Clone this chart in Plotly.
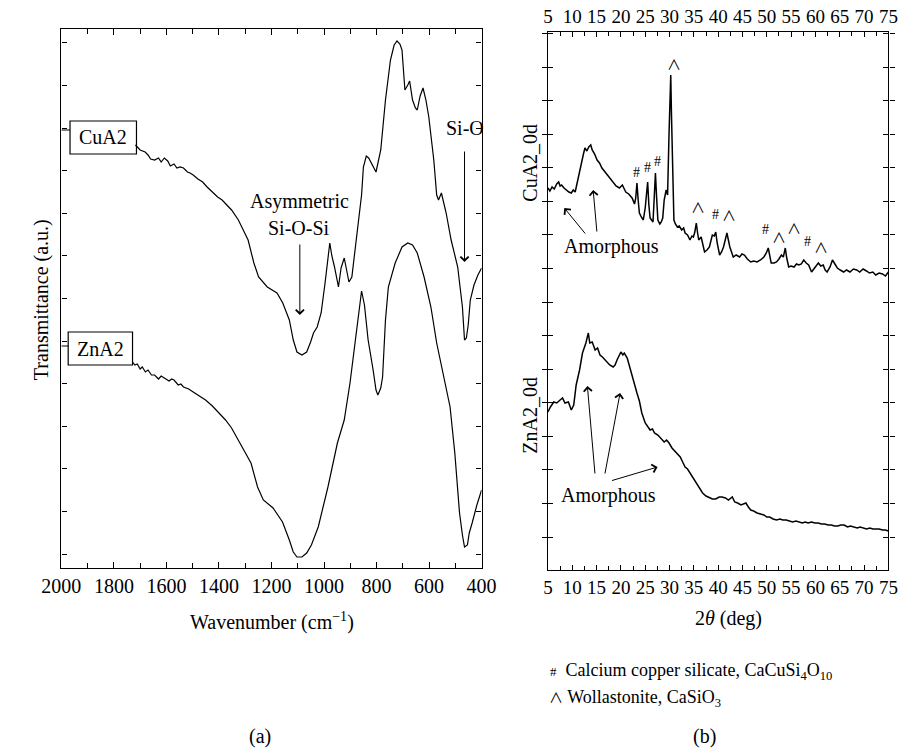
import plotly.graph_objects as go

# ---------------- Panel (a): FTIR ----------------
wn_cu = [1718, 1700, 1681, 1670, 1660, 1645, 1630, 1620, 1608, 1595, 1585, 1571, 1560, 1548, 1535, 1520, 1510,
         1498, 1480, 1462, 1445, 1425, 1405, 1388, 1370, 1352, 1326, 1308, 1289, 1267, 1249, 1216, 1179, 1157,
         1132, 1117, 1103, 1084, 1066, 1051, 1040, 1026, 1011, 996, 984, 978, 970, 960, 945, 935, 923, 914, 905,
         894, 875, 857, 850, 839, 830, 821, 802, 784, 766, 747, 733, 722, 711, 703, 692, 681, 674, 663, 652,
         645, 634, 623, 612, 601, 582, 571, 564, 553, 535, 516, 491, 473, 465, 458, 451, 443, 429, 414, 400]
t_cu = [423, 418, 416, 413, 409, 408, 410, 406, 410, 407, 402, 404, 400, 401, 400, 396, 395,
        393, 389, 386, 381, 376, 371, 368, 363, 358, 348, 338, 328, 305, 291, 281, 275, 265,
        248, 228, 216, 213, 216, 226, 235, 241, 255, 285, 315, 325, 312, 301, 281, 300, 310, 296, 286,
        291, 335, 373, 401, 412, 410, 405, 396, 418, 468, 508, 523, 527, 524, 518, 478, 483, 487, 468, 460,
        458, 472, 480, 468, 451, 408, 373, 368, 375, 355, 328, 301, 261, 228, 230, 243, 268, 283, 293, 300]

wn_zn = [1729, 1720, 1711, 1700, 1692, 1680, 1670, 1657, 1645, 1630, 1620, 1608, 1590, 1580, 1571, 1555, 1545,
         1535, 1515, 1498, 1475, 1451, 1425, 1399, 1375, 1352, 1330, 1304, 1278, 1253, 1231, 1194, 1158, 1132,
         1117, 1103, 1084, 1066, 1048, 1022, 1004, 985, 949, 923, 901, 883, 868, 857, 846, 832, 813, 802, 795,
         784, 777, 766, 755, 729, 703, 681, 663, 645, 619, 593, 571, 546, 520, 502, 484, 473, 465, 454, 447,
         436, 418, 400]
t_zn = [206, 203, 204, 199, 201, 196, 198, 193, 193, 189, 192, 190, 187, 189, 188, 183, 184,
        181, 179, 176, 172, 168, 162, 155, 148, 140, 130, 118, 105, 81, 68, 60, 46, 28,
        16, 11, 11, 15, 23, 41, 61, 81, 125, 148, 185, 225, 258, 277, 263, 228, 198, 178, 173,
        180, 191, 248, 281, 305, 321, 325, 323, 315, 291, 261, 225, 195, 161, 115, 55, 33, 21, 23, 35,
        45, 63, 78]

# ---------------- Panel (b): XRD ----------------
tth_cu = [5.0, 5.4, 5.85, 6.3, 6.8, 7.2, 7.5, 7.8, 8.3, 8.8, 9.3, 9.8, 10.2, 10.6, 11.0, 11.5, 11.9, 12.3,
          12.6, 13.0, 13.4, 13.8, 14.1, 14.6, 15.1, 15.6, 16.1, 16.6, 17.1, 17.7, 18.4, 19.0, 19.7, 20.3,
          21.0, 21.6, 22.3, 22.8, 23.05, 23.3, 23.55, 23.8, 24.2, 24.6, 25.0, 25.5, 25.75, 26.0, 26.3,
          26.6, 26.85, 27.1, 27.35, 27.6, 28.0, 28.3, 28.6, 28.9, 29.3, 29.6, 29.9, 30.1, 30.25, 30.4,
          30.6, 30.9, 31.2, 31.6, 32.0, 32.5, 32.9, 33.2, 33.7, 34.2, 34.6, 34.9, 35.2, 35.5, 35.8, 36.0,
          36.5, 36.9, 37.2, 37.7, 38.2, 38.8, 39.2, 39.5, 39.8, 40.3, 40.7, 41.1, 41.5, 41.8, 42.1, 42.4,
          43.1, 43.7, 44.4, 44.9, 45.4, 46.0, 46.7, 47.3, 48.0, 48.7, 49.4, 49.9, 50.3, 50.6, 50.9, 51.5,
          52.0, 52.5, 53.0, 53.4, 53.8, 54.1, 54.5, 55.0, 55.6, 56.1, 56.6, 57.1, 57.6, 58.1, 58.6, 59.2,
          59.9, 60.6, 61.1, 61.6, 62.0, 62.4, 63.0, 63.5, 64.0, 64.5, 65.1, 65.8, 66.4, 67.1, 67.8, 68.5,
          69.1, 69.8, 70.5, 71.1, 71.8, 72.4, 73.1, 73.8, 74.4, 75.0]
int_cu = [382, 379, 383, 381, 386, 388, 384, 385, 382, 380, 378, 377, 380, 378, 387, 400, 410, 416,
          422, 419, 423, 425, 420, 416, 410, 407, 402, 399, 395, 392, 387, 384, 382, 385,
          378, 376, 372, 366, 372, 387, 370, 357, 353, 350, 362, 388, 365, 352, 350,
          348, 372, 397, 372, 350, 346, 348, 352, 370, 380, 375, 437, 470, 495, 455,
          420, 350, 346, 343, 344, 340, 342, 337, 335, 330, 334, 333, 338, 347, 336, 330,
          333, 326, 318, 320, 323, 335, 334, 338, 327, 315, 318, 323, 330, 337, 330, 323,
          313, 315, 313, 316, 315, 311, 308, 309, 308, 310, 313, 317, 322, 313, 307, 307,
          308, 311, 315, 313, 322, 312, 303, 304, 303, 306, 305, 306, 310, 307, 305, 298,
          303, 307, 304, 305, 300, 298, 303, 310, 306, 302, 300, 298, 300, 298, 301, 300,
          298, 301, 299, 297, 298, 295, 297, 296, 294, 298]

tth_zn = [5.0, 5.5, 6.2, 6.8, 7.5, 8.0, 8.5, 9.2, 9.8, 10.3, 10.8, 11.5, 12.1, 12.8, 13.3, 13.6, 14.1,
          14.7, 15.2, 15.7, 16.2, 16.7, 17.2, 17.7, 18.4, 18.8, 19.2, 20.0, 20.4, 20.7, 21.3, 21.8, 22.3,
          22.8, 23.3, 23.8, 24.3, 25.0, 25.5, 26.0, 26.5, 26.9, 27.6, 28.2, 28.9, 29.4, 29.9, 30.5,
          31.2, 31.7, 32.2, 32.7, 33.2, 33.7, 34.2, 34.8, 35.5, 36.1, 36.8, 37.5, 38.2, 38.8, 39.5,
          40.2, 40.8, 41.5, 42.1, 42.9, 43.4, 44.0, 44.7, 45.2, 45.7, 46.2, 46.7, 47.3, 48.0, 48.7,
          49.4, 50.0, 50.6, 51.3, 52.0, 52.7, 53.3, 54.0, 54.6, 55.3, 56.0, 56.6, 57.3, 57.9, 58.5,
          59.2, 59.9, 60.6, 61.2, 61.9, 62.6, 63.3, 63.9, 64.6, 65.2, 65.9, 66.6, 67.2, 67.9, 68.6,
          69.2, 69.9, 70.5, 71.2, 71.8, 72.5, 73.1, 73.8, 74.4, 75.0]
int_zn = [158, 163, 168, 167, 170, 172, 167, 168, 160, 165, 185, 200, 217, 227, 237, 227, 228,
          220, 222, 215, 213, 210, 208, 205, 203, 205, 210, 218, 215, 217, 212, 203, 193,
          186, 177, 169, 157, 147, 143, 140, 141, 137, 135, 132, 128, 130, 127, 122,
          118, 116, 113, 108, 103, 101, 97, 93, 88, 82, 77, 74, 72, 71, 71,
          73, 73, 72, 70, 73, 68, 67, 65, 66, 67, 63, 60, 59, 57, 56,
          55, 53, 53, 51, 50, 51, 50, 50, 49, 48, 49, 48, 47, 48, 47,
          48, 47, 47, 46, 46, 45, 45, 44, 44, 45, 45, 43, 44, 43, 42,
          43, 42, 41, 42, 41, 41, 41, 40, 40, 39]

# phase markers (2θ, height) on the CuA2_0d pattern
hash_marks = [(23.3, 397), (25.4, 402), (27.6, 408), (39.5, 355), (49.7, 340), (58.3, 328)]
wedge_marks = [(30.9, 506), (35.8, 363), (42.2, 355), (52.6, 333), (55.6, 342), (61.2, 323)]

FONT = "'Liberation Serif', 'Times New Roman', serif"
WEDGE_FONT = "'Noto Sans CJK SC', 'DejaVu Sans', sans-serif"
BLACK = "#000000"
W, H = 913, 750
FS = 20


def px(x):
    return x / W


def py(y):
    return 1 - y / H


fig = go.Figure()
fig.add_trace(go.Scatter(x=wn_cu, y=t_cu, mode="lines", line=dict(color=BLACK, width=1.2),
                         xaxis="x", yaxis="y", showlegend=False))
fig.add_trace(go.Scatter(x=wn_zn, y=t_zn, mode="lines", line=dict(color=BLACK, width=1.2),
                         xaxis="x", yaxis="y", showlegend=False))
fig.add_trace(go.Scatter(x=tth_cu, y=int_cu, mode="lines", line=dict(color=BLACK, width=1.5),
                         xaxis="x2", yaxis="y2", showlegend=False))
fig.add_trace(go.Scatter(x=tth_zn, y=int_zn, mode="lines", line=dict(color=BLACK, width=1.5),
                         xaxis="x2", yaxis="y2", showlegend=False))
# helper trace so the top axis of panel (b) is drawn
fig.add_trace(go.Scatter(x=tth_zn, y=int_zn, mode="lines", line=dict(color="rgba(0,0,0,0)", width=0),
                         xaxis="x3", yaxis="y2", showlegend=False, hoverinfo="skip"))

axis_common = dict(showline=True, linecolor=BLACK, linewidth=1.3, ticks="inside", tickcolor=BLACK,
                   tickwidth=1.2, showgrid=False, zeroline=False,
                   tickfont=dict(family=FONT, size=FS, color=BLACK))
tick_b = dict(family=FONT, size=19, color=BLACK)

fig.update_layout(
    width=W, height=H, margin=dict(l=0, r=0, t=0, b=0),
    paper_bgcolor="white", plot_bgcolor="white",
    font=dict(family=FONT, size=FS, color=BLACK),
    xaxis=dict(axis_common, domain=[px(43), px(480)], range=[2000, 400], dtick=200, ticklen=6,
               mirror="allticks", anchor="y",
               minor=dict(dtick=100, ticks="inside", ticklen=5, tickcolor=BLACK, tickwidth=1.2)),
    yaxis=dict(axis_common, domain=[py(568), py(29)], range=[0, 539], tick0=14, dtick=42.6,
               ticklen=5, showticklabels=False, mirror="allticks", anchor="x"),
    xaxis2=dict(axis_common, domain=[px(549), px(903)], range=[5, 75], dtick=5, ticklen=5,
                anchor="y2", tickfont=tick_b,
                minor=dict(dtick=2.5, ticks="inside", ticklen=4, tickcolor=BLACK, tickwidth=1.2)),
    xaxis3=dict(axis_common, overlaying="x2", side="top", range=[5, 75], dtick=5, ticklen=5,
                anchor="y2", tickfont=tick_b,
                minor=dict(dtick=2.5, ticks="inside", ticklen=4, tickcolor=BLACK, tickwidth=1.2)),
    yaxis2=dict(axis_common, domain=[py(570), py(32)], range=[0, 538], tick0=33, dtick=33.57,
                ticklen=5, showticklabels=False, mirror="allticks", anchor="x2"),
)

ann = []


def text(xref, yref, x, y, s, size=FS, angle=0, xanchor="center", family=FONT):
    ann.append(dict(xref=xref, yref=yref, x=x, y=y, text=s, showarrow=False, textangle=angle,
                    xanchor=xanchor, yanchor="middle", font=dict(size=size, family=family)))


def arrow(xref, yref, tail, head):
    ann.append(dict(xref=xref, yref=yref, x=head[0], y=head[1], axref=xref, ayref=yref,
                    ax=tail[0], ay=tail[1], text="", showarrow=True, arrowhead=4,
                    arrowsize=1.6, arrowwidth=1, arrowcolor=BLACK))


# ---- panel (a) texts
text("paper", "paper", px(22), py(300), "Transmittance (a.u.)", angle=-90)
text("paper", "paper", px(262), py(621), "Wavenumber (cm<sup>−1</sup>)")
text("paper", "paper", px(250), py(736), "(a)")
text("x", "y", 1841, 568 - 137.5, "CuA2")
text("x", "y", 1852, 568 - 348.5, "ZnA2")
text("x", "y", 1094, 568 - 202, "Asymmetric")
text("x", "y", 1094, 568 - 228, "Si-O-Si")
arrow("x", "y", (1092, 568 - 243), (1092, 568 - 315))
text("x", "y", 462, 568 - 128, "Si-O")
arrow("x", "y", (465, 568 - 150), (465, 568 - 262))

# ---- panel (b) texts
text("paper", "paper", px(530), py(163), "CuA2_0d", angle=-90)
text("paper", "paper", px(530), py(415), "ZnA2_0d", angle=-90)
text("paper", "paper", px(737), py(618), "2<i>θ</i> (deg)")
text("paper", "paper", px(712), py(736), "(b)")
text("paper", "paper", px(549), py(671),
     "<span style='font-size:13px'>#</span>  Calcium copper silicate, CaCuSi<sub>4</sub>O<sub>10</sub>",
     size=18, xanchor="left")
text("paper", "paper", px(548), py(698),
     "<span style=\"font-family:'Noto Sans CJK SC';font-size:14px\">∧</span> Wollastonite, CaSiO<sub>3</sub>",
     size=18, xanchor="left")

for (xx, yy) in hash_marks:
    text("x2", "y2", xx, yy, "#", size=14)
for (xx, yy) in wedge_marks:
    text("x2", "y2", xx, yy, "∧", size=14, family=WEDGE_FONT)


# Amorphous labels and arrows (positions in panel pixels converted to axis units)
def bx(xp):
    return 5 + (xp - 549) / 5.057


def by(yp):
    return 570 - yp


text("x2", "y2", bx(615), by(247), "Amorphous")
text("x2", "y2", bx(612), by(495), "Amorphous")
for (t, h) in [((589, 235), (566, 208)), ((600, 233), (596, 190)), ((598, 475), (590, 386)),
               ((608, 475), (624, 393)), ((614, 481), (663, 467))]:
    arrow("x2", "y2", (bx(t[0]), by(t[1])), (bx(h[0]), by(h[1])))

fig.update_layout(annotations=ann)

# label boxes and leader lines for panel (a)
shapes = [
    dict(type="rect", xref="x", yref="y", x0=1967, x1=1714, y0=568 - 154, y1=568 - 121,
         line=dict(color=BLACK, width=1.2)),
    dict(type="line", xref="x", yref="y", x0=2000, x1=1967, y0=568 - 130, y1=568 - 130,
         line=dict(color=BLACK, width=1.2)),
    dict(type="rect", xref="x", yref="y", x0=1974, x1=1729, y0=568 - 365, y1=568 - 332,
         line=dict(color=BLACK, width=1.2)),
    dict(type="line", xref="x", yref="y", x0=2000, x1=1974, y0=568 - 346, y1=568 - 346,
         line=dict(color=BLACK, width=1.2)),
]
fig.update_layout(shapes=shapes)

fig.write_html("out.html")
